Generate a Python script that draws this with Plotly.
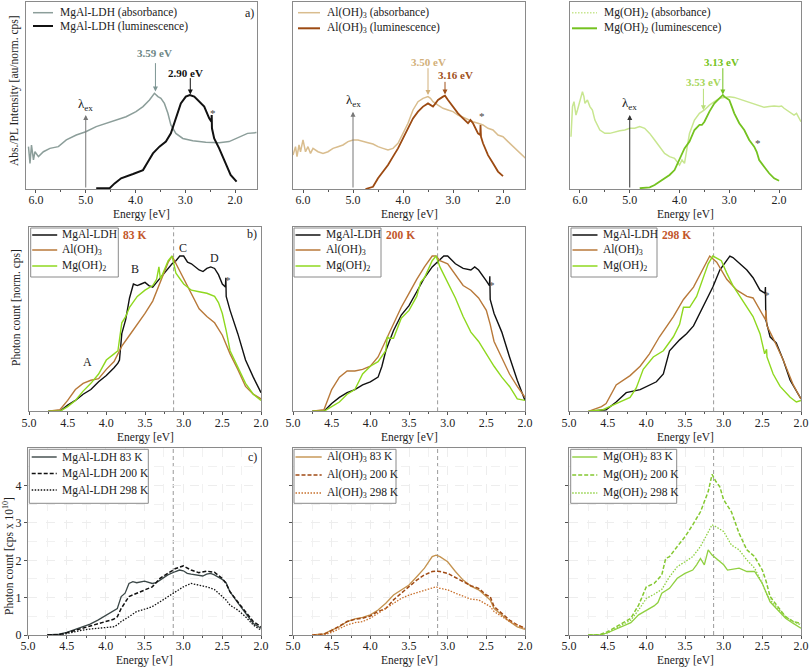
import plotly.graph_objects as go

W, H = 810, 669
FONT = "Liberation Serif, Times New Roman, serif"

# ================= DATA =================
# ---- Row a): absorbance / luminescence (normalised 0..1) ----
E_ldh_abs = [6.15, 6.12, 6.09, 6.05, 6.02, 5.95, 5.85, 5.72, 5.55, 5.39, 5.19, 5.0, 4.79, 4.59, 4.39, 4.19,
             3.99, 3.85, 3.72, 3.62, 3.55, 3.49, 3.42, 3.35, 3.29, 3.19, 3.05, 2.85, 2.59, 2.32, 2.12, 1.92, 1.75, 1.57]
I_ldh_abs = [0.226, 0.137, 0.235, 0.155, 0.199, 0.173, 0.199, 0.217, 0.226, 0.262, 0.288, 0.306, 0.333, 0.351,
             0.368, 0.386, 0.413, 0.440, 0.475, 0.511, 0.493, 0.484, 0.457, 0.404, 0.342, 0.297, 0.270, 0.258,
             0.249, 0.247, 0.253, 0.276, 0.297, 0.301]
E_ldh_lum = [4.79, 4.52, 4.42, 4.29, 4.05, 3.85, 3.75, 3.65, 3.52, 3.39, 3.29, 3.19, 3.09, 2.99, 2.91, 2.82,
             2.72, 2.62, 2.52, 2.475, 2.47, 2.465, 2.42, 2.32, 2.19, 2.09, 1.97]
I_ldh_lum = [0.004, 0.004, 0.030, 0.057, 0.080, 0.101, 0.146, 0.190, 0.226, 0.253, 0.297, 0.377, 0.457, 0.493,
             0.502, 0.493, 0.466, 0.440, 0.377, 0.359, 0.395, 0.324, 0.270, 0.217, 0.137, 0.075, 0.039]

E_al_abs = [6.2, 6.15, 6.12, 6.08, 6.05, 6.0, 5.95, 5.9, 5.85, 5.8, 5.7, 5.6, 5.5, 5.4, 5.3, 5.2, 5.1, 5.0, 4.9,
            4.8, 4.7, 4.6, 4.5, 4.4, 4.3, 4.2, 4.1, 4.0, 3.9, 3.8, 3.7, 3.6, 3.5, 3.45, 3.4, 3.3, 3.2, 3.1, 3.0,
            2.9, 2.8, 2.7, 2.6, 2.5, 2.4, 2.3, 2.2, 2.1, 2.0, 1.9, 1.8, 1.7, 1.55]
I_al_abs = [0.181, 0.226, 0.173, 0.235, 0.199, 0.262, 0.199, 0.226, 0.190, 0.217, 0.199, 0.190, 0.199, 0.217,
            0.226, 0.235, 0.253, 0.262, 0.262, 0.253, 0.247, 0.240, 0.226, 0.217, 0.208, 0.217, 0.244, 0.297,
            0.351, 0.422, 0.466, 0.484, 0.493, 0.484, 0.466, 0.448, 0.431, 0.422, 0.413, 0.395, 0.383, 0.368,
            0.359, 0.351, 0.342, 0.324, 0.315, 0.288, 0.279, 0.253, 0.226, 0.199, 0.164]
E_al_lum = [4.75, 4.6, 4.5, 4.4, 4.3, 4.2, 4.1, 4.0, 3.9, 3.8, 3.7, 3.6, 3.5, 3.4, 3.35, 3.3, 3.2, 3.16, 3.1,
            3.0, 2.9, 2.8, 2.7, 2.65, 2.6, 2.5, 2.455, 2.45, 2.44, 2.4, 2.3, 2.2, 2.1, 2.0]
I_al_lum = [0.0, 0.012, 0.057, 0.093, 0.128, 0.173, 0.217, 0.270, 0.324, 0.377, 0.413, 0.440, 0.457, 0.440,
            0.457, 0.475, 0.493, 0.498, 0.475, 0.440, 0.404, 0.377, 0.351, 0.368, 0.351, 0.297, 0.288, 0.342,
            0.279, 0.244, 0.181, 0.137, 0.093, 0.069]

E_mg_abs = [6.18, 6.15, 6.12, 6.1, 6.08, 6.05, 6.0, 5.95, 5.92, 5.9, 5.85, 5.8, 5.75, 5.7, 5.6, 5.5, 5.4, 5.3,
            5.2, 5.1, 5.0, 4.9, 4.8, 4.7, 4.6, 4.5, 4.4, 4.3, 4.2, 4.1, 4.0, 3.95, 3.9, 3.85, 3.8, 3.7, 3.6, 3.5,
            3.4, 3.3, 3.2, 3.1, 3.0, 2.9, 2.8, 2.7, 2.6, 2.5, 2.4, 2.3, 2.2, 2.1, 2.0, 1.95, 1.9, 1.8, 1.7, 1.65, 1.56]
I_mg_abs = [0.279, 0.440, 0.466, 0.422, 0.395, 0.422, 0.475, 0.520, 0.493, 0.457, 0.475, 0.440, 0.422, 0.368,
            0.315, 0.297, 0.297, 0.306, 0.311, 0.315, 0.324, 0.324, 0.333, 0.324, 0.297, 0.262, 0.226, 0.190,
            0.173, 0.164, 0.128, 0.155, 0.137, 0.208, 0.297, 0.368, 0.404, 0.422, 0.448, 0.466, 0.484, 0.489,
            0.493, 0.489, 0.480, 0.471, 0.463, 0.454, 0.443, 0.436, 0.440, 0.443, 0.440, 0.443, 0.431, 0.413,
            0.395, 0.404, 0.359]
E_mg_lum = [4.8, 4.6, 4.5, 4.4, 4.2, 4.1, 4.0, 3.9, 3.8, 3.7, 3.6, 3.55, 3.5, 3.4, 3.3, 3.2, 3.13, 3.1, 3.0,
            2.95, 2.9, 2.8, 2.7, 2.6, 2.5, 2.45, 2.4, 2.3, 2.2, 2.1, 2.0]
I_mg_lum = [0.004, 0.009, 0.021, 0.039, 0.075, 0.101, 0.164, 0.217, 0.253, 0.315, 0.342, 0.342, 0.359, 0.413,
            0.457, 0.484, 0.502, 0.493, 0.475, 0.440, 0.404, 0.351, 0.315, 0.262, 0.226, 0.199, 0.155, 0.119,
            0.084, 0.057, 0.044]

# ---- Row b): normalised PL at 83 K / 200 K / 298 K ----
E_b83_ldh = [4.75, 4.6, 4.5, 4.4, 4.3, 4.2, 4.1, 4.0, 3.9, 3.85, 3.83, 3.81, 3.8, 3.75, 3.7, 3.65, 3.6, 3.55,
             3.5, 3.45, 3.4, 3.35, 3.3, 3.2, 3.15, 3.1, 3.05, 3.0, 2.95, 2.9, 2.8, 2.75, 2.7, 2.65, 2.6, 2.55,
             2.5, 2.46, 2.455, 2.45, 2.4, 2.3, 2.2, 2.1, 2.0]
I_b83_ldh = [0.0, 0.0, 0.04, 0.07, 0.11, 0.14, 0.19, 0.23, 0.28, 0.31, 0.33, 0.45, 0.50, 0.59, 0.73, 0.82,
             0.81, 0.82, 0.83, 0.81, 0.80, 0.83, 0.86, 0.92, 0.95, 0.97, 1.00, 1.00, 0.96, 0.95, 0.91, 0.90,
             0.92, 0.93, 0.92, 0.88, 0.82, 0.80, 0.86, 0.74, 0.65, 0.50, 0.33, 0.22, 0.12]
E_b83_al = [4.75, 4.6, 4.5, 4.4, 4.3, 4.2, 4.1, 4.0, 3.9, 3.8, 3.7, 3.6, 3.5, 3.4, 3.3, 3.2, 3.15, 3.1, 3.0,
            2.9, 2.8, 2.7, 2.6, 2.5, 2.45, 2.4, 2.3, 2.2, 2.1, 2.0]
I_b83_al = [0.0, 0.01, 0.07, 0.14, 0.18, 0.20, 0.21, 0.27, 0.32, 0.42, 0.49, 0.56, 0.63, 0.71, 0.83, 0.96,
            1.00, 0.95, 0.86, 0.75, 0.66, 0.61, 0.57, 0.49, 0.43, 0.37, 0.27, 0.16, 0.11, 0.08]
E_b83_mg = [4.75, 4.6, 4.5, 4.4, 4.3, 4.2, 4.1, 4.0, 3.9, 3.85, 3.8, 3.75, 3.7, 3.6, 3.5, 3.4, 3.35, 3.32,
            3.3, 3.2, 3.15, 3.1, 3.0, 2.9, 2.8, 2.7, 2.6, 2.55, 2.5, 2.46, 2.45, 2.4, 2.3, 2.2, 2.1, 2.0]
I_b83_mg = [0.0, 0.0, 0.03, 0.07, 0.13, 0.18, 0.24, 0.33, 0.37, 0.39, 0.57, 0.61, 0.67, 0.74, 0.78, 0.81,
            0.85, 0.93, 0.85, 0.97, 1.00, 0.89, 0.82, 0.78, 0.77, 0.76, 0.74, 0.70, 0.63, 0.55, 0.52, 0.39,
            0.29, 0.18, 0.11, 0.07]

E_b200_ldh = [4.75, 4.6, 4.5, 4.4, 4.3, 4.2, 4.1, 4.0, 3.9, 3.85, 3.8, 3.7, 3.6, 3.5, 3.4, 3.3, 3.2, 3.1,
              3.05, 3.0, 2.9, 2.8, 2.7, 2.65, 2.6, 2.5, 2.46, 2.455, 2.45, 2.4, 2.3, 2.2, 2.1, 2.0]
I_b200_ldh = [0.0, 0.0, 0.05, 0.09, 0.12, 0.14, 0.17, 0.19, 0.22, 0.29, 0.39, 0.52, 0.62, 0.68, 0.77, 0.86,
              0.93, 0.98, 1.00, 1.00, 0.95, 0.92, 0.91, 0.93, 0.91, 0.84, 0.81, 0.87, 0.72, 0.63, 0.51, 0.35,
              0.20, 0.07]
E_b200_al = [4.75, 4.6, 4.5, 4.4, 4.3, 4.2, 4.1, 4.0, 3.9, 3.8, 3.7, 3.6, 3.5, 3.4, 3.3, 3.2, 3.15, 3.1, 3.0,
             2.9, 2.8, 2.7, 2.6, 2.5, 2.45, 2.4, 2.3, 2.2, 2.1, 2.0]
I_b200_al = [0.0, 0.01, 0.14, 0.22, 0.26, 0.26, 0.27, 0.29, 0.35, 0.46, 0.57, 0.67, 0.76, 0.85, 0.93, 1.00,
             1.00, 0.97, 0.95, 0.88, 0.81, 0.78, 0.73, 0.65, 0.56, 0.45, 0.35, 0.24, 0.16, 0.09]
E_b200_mg = [4.75, 4.6, 4.5, 4.4, 4.3, 4.2, 4.1, 4.0, 3.9, 3.8, 3.78, 3.76, 3.7, 3.6, 3.5, 3.4, 3.35, 3.3,
             3.2, 3.15, 3.1, 3.0, 2.9, 2.8, 2.7, 2.6, 2.5, 2.4, 2.3, 2.2, 2.1, 2.0]
I_b200_mg = [0.0, 0.0, 0.03, 0.06, 0.11, 0.14, 0.24, 0.29, 0.32, 0.39, 0.48, 0.47, 0.47, 0.60, 0.65, 0.74,
             0.83, 0.86, 0.97, 1.00, 0.93, 0.83, 0.73, 0.61, 0.51, 0.45, 0.37, 0.29, 0.22, 0.16, 0.08, 0.07]

E_b298_ldh = [4.73, 4.52, 4.39, 4.26, 4.08, 3.96, 3.87, 3.78, 3.70, 3.57, 3.48, 3.39, 3.31, 3.22, 3.14, 3.05,
              2.98, 2.92, 2.88, 2.79, 2.70, 2.62, 2.53, 2.465, 2.46, 2.455, 2.40, 2.32, 2.23, 2.14, 2.06, 2.0]
I_b298_ldh = [0.0, 0.01, 0.06, 0.12, 0.14, 0.17, 0.19, 0.24, 0.39, 0.46, 0.50, 0.55, 0.63, 0.73, 0.80, 0.91,
              0.96, 1.00, 0.99, 0.95, 0.91, 0.86, 0.78, 0.76, 0.80, 0.59, 0.48, 0.44, 0.33, 0.20, 0.13, 0.08]
E_b298_al = [4.75, 4.58, 4.52, 4.39, 4.21, 4.08, 3.96, 3.83, 3.65, 3.52, 3.39, 3.31, 3.22, 3.18, 3.09, 2.96,
             2.83, 2.70, 2.62, 2.53, 2.46, 2.455, 2.44, 2.36, 2.23, 2.10, 2.0]
I_b298_al = [0.0, 0.03, 0.05, 0.17, 0.23, 0.29, 0.37, 0.48, 0.61, 0.72, 0.80, 0.88, 0.97, 1.00, 0.96, 0.85,
             0.78, 0.74, 0.73, 0.65, 0.59, 0.65, 0.55, 0.47, 0.33, 0.17, 0.08]
E_b298_mg = [4.75, 4.56, 4.39, 4.21, 4.13, 4.04, 3.91, 3.78, 3.65, 3.57, 3.52, 3.44, 3.35, 3.26, 3.20, 3.14,
             3.03, 2.96, 2.88, 2.79, 2.70, 2.62, 2.53, 2.47, 2.445, 2.44, 2.36, 2.27, 2.14, 2.06, 2.0]
I_b298_mg = [0.0, 0.01, 0.05, 0.09, 0.15, 0.27, 0.35, 0.39, 0.48, 0.56, 0.67, 0.67, 0.74, 0.87, 0.95, 1.00,
             0.97, 0.89, 0.81, 0.74, 0.67, 0.61, 0.50, 0.37, 0.40, 0.35, 0.24, 0.16, 0.09, 0.06, 0.07]

# ---- Row c): absolute photon count [cps x 10^10] ----
E_c_ldh = [4.75, 4.6, 4.5, 4.4, 4.3, 4.2, 4.1, 4.0, 3.9, 3.85, 3.8, 3.75, 3.7, 3.65, 3.6, 3.5, 3.4, 3.35, 3.3,
           3.2, 3.1, 3.05, 3.0, 2.95, 2.9, 2.8, 2.75, 2.7, 2.65, 2.6, 2.5, 2.45, 2.4, 2.3, 2.2, 2.1, 2.0]
C_ldh_83 = [0.0, 0.02, 0.07, 0.15, 0.22, 0.29, 0.40, 0.52, 0.63, 0.71, 1.03, 1.12, 1.38, 1.43, 1.40, 1.44,
            1.38, 1.40, 1.47, 1.61, 1.70, 1.74, 1.72, 1.65, 1.63, 1.61, 1.58, 1.63, 1.65, 1.61, 1.49, 1.40,
            1.16, 0.87, 0.58, 0.31, 0.18]
E_c = [4.75, 4.6, 4.5, 4.4, 4.3, 4.2, 4.1, 4.0, 3.9, 3.85, 3.8, 3.7, 3.6, 3.5, 3.4, 3.3, 3.2, 3.1, 3.0, 2.9,
       2.8, 2.7, 2.6, 2.5, 2.45, 2.4, 2.3, 2.2, 2.1, 2.0]
C_ldh_200 = [0.0, 0.01, 0.06, 0.12, 0.18, 0.22, 0.29, 0.36, 0.42, 0.49, 0.71, 1.03, 1.12, 1.21, 1.29, 1.52,
             1.65, 1.78, 1.85, 1.74, 1.67, 1.71, 1.68, 1.52, 1.38, 1.16, 0.89, 0.63, 0.36, 0.22]
C_ldh_298 = [0.0, 0.0, 0.04, 0.09, 0.13, 0.16, 0.18, 0.20, 0.22, 0.27, 0.36, 0.49, 0.63, 0.69, 0.76, 0.89,
             1.03, 1.16, 1.29, 1.38, 1.34, 1.29, 1.22, 1.03, 0.94, 0.80, 0.67, 0.49, 0.27, 0.13]

E_c_al = [4.75, 4.6, 4.5, 4.4, 4.3, 4.2, 4.1, 4.0, 3.9, 3.8, 3.7, 3.6, 3.5, 3.4, 3.3, 3.2, 3.15, 3.1, 3.0, 2.9,
          2.8, 2.7, 2.6, 2.5, 2.45, 2.4, 2.3, 2.2, 2.1, 2.0]
C_al_83 = [0.0, 0.03, 0.13, 0.22, 0.36, 0.43, 0.47, 0.54, 0.67, 0.85, 1.07, 1.21, 1.34, 1.56, 1.79, 2.10, 2.14,
           2.10, 1.96, 1.70, 1.47, 1.31, 1.21, 1.03, 0.94, 0.71, 0.54, 0.36, 0.22, 0.15]
C_al_200 = [0.0, 0.02, 0.12, 0.25, 0.36, 0.42, 0.45, 0.51, 0.63, 0.71, 0.94, 1.12, 1.29, 1.47, 1.61, 1.70,
            1.71, 1.70, 1.65, 1.54, 1.43, 1.32, 1.25, 1.07, 1.03, 0.76, 0.58, 0.40, 0.27, 0.18]
C_al_298 = [0.0, 0.0, 0.07, 0.18, 0.27, 0.33, 0.36, 0.45, 0.58, 0.71, 0.85, 0.98, 1.07, 1.13, 1.21, 1.25, 1.29,
            1.25, 1.21, 1.12, 1.03, 0.96, 0.94, 0.83, 0.76, 0.63, 0.49, 0.36, 0.27, 0.18]

E_c_mg83 = [4.75, 4.6, 4.5, 4.4, 4.3, 4.2, 4.1, 4.0, 3.9, 3.85, 3.8, 3.7, 3.6, 3.5, 3.4, 3.35, 3.3, 3.25, 3.2,
            3.15, 3.1, 3.0, 2.95, 2.9, 2.8, 2.7, 2.6, 2.5, 2.45, 2.4, 2.3, 2.2, 2.1, 2.0]
C_mg_83 = [0.0, 0.0, 0.06, 0.15, 0.24, 0.33, 0.54, 0.67, 0.78, 0.87, 1.12, 1.25, 1.52, 1.65, 1.74, 1.88, 2.05,
           1.88, 2.28, 2.14, 2.05, 1.88, 1.74, 1.76, 1.79, 1.70, 1.70, 1.38, 1.12, 0.89, 0.67, 0.45, 0.31, 0.18]
E_c_mg200 = [4.75, 4.6, 4.5, 4.4, 4.3, 4.2, 4.1, 4.0, 3.9, 3.8, 3.75, 3.7, 3.6, 3.5, 3.4, 3.3, 3.2, 3.15, 3.1,
             3.05, 3.0, 2.9, 2.8, 2.7, 2.6, 2.5, 2.45, 2.4, 2.3, 2.2, 2.1, 2.0]
C_mg_200 = [0.0, 0.01, 0.09, 0.21, 0.33, 0.45, 0.80, 1.29, 1.38, 1.61, 2.05, 2.10, 2.37, 2.63, 2.95, 3.30, 3.84,
            4.30, 4.11, 3.97, 3.62, 3.30, 2.72, 2.28, 2.10, 1.74, 1.43, 1.03, 0.76, 0.49, 0.36, 0.31]
E_c_mg298 = [4.75, 4.6, 4.5, 4.4, 4.3, 4.2, 4.1, 4.0, 3.9, 3.8, 3.7, 3.6, 3.5, 3.4, 3.3, 3.2, 3.15, 3.1, 3.0,
             2.9, 2.8, 2.7, 2.6, 2.5, 2.45, 2.4, 2.3, 2.2, 2.1, 2.0]
C_mg_298 = [0.0, 0.0, 0.06, 0.17, 0.29, 0.40, 0.67, 0.98, 1.09, 1.22, 1.56, 1.83, 1.96, 2.10, 2.37, 2.77, 2.95,
            2.90, 2.77, 2.41, 2.28, 2.01, 1.79, 1.38, 1.12, 0.94, 0.71, 0.49, 0.36, 0.27]

x_ticks_a = [6, 5, 4, 3, 2]
x_ticks_bc = [5.0, 4.5, 4.0, 3.5, 3.0, 2.5, 2.0]
y_ticks_c = [0, 1, 2, 3, 4]
E_ref = 3.13
E_ex = 5.0

# ================= STYLE =================
C_LDH_ABS = "#8c9e9a"
C_AL_ABS = "#d9bd8e"
C_AL_LUM = "#9c4a12"
C_MG_ABS = "#c8e690"
C_MG_LUM = "#74c220"
C_B_AL = "#b8793a"
C_B_MG = "#8fd81f"
C_TEMP = "#c2562a"
DASH = "4px,2px"
DOT = "1.5px,1.5px"
FS = 11.5


def px(x):
    return x / W


def py(y):
    return 1 - y / H


ydom = {0: (1.7, 189), 1: (227.3, 411.3), 2: (448.3, 635)}
xdom = {(0, 0): (26, 257), (0, 1): (293, 525), (0, 2): (570, 801),
        (1, 0): (29, 261), (1, 1): (293, 525), (1, 2): (569, 801),
        (2, 0): (28, 261), (2, 1): (293, 525), (2, 2): (569, 801)}

fig = go.Figure()
layout = dict(width=W, height=H, margin=dict(l=0, r=0, t=0, b=0, pad=0, autoexpand=False),
              plot_bgcolor="white", paper_bgcolor="white", showlegend=False,
              font=dict(family=FONT, size=12, color="#222"))

for r in range(3):
    for c in range(3):
        k = r * 3 + c + 1
        x0, x1 = xdom[(r, c)]
        y0, y1 = ydom[r]
        xa = dict(domain=[px(x0), px(x1)], anchor="y%d" % k, showline=True, mirror=True, automargin=False,
                  linecolor="#8a8a8a", linewidth=1, ticks="outside", ticklen=3, tickcolor="#555",
                  ticklabelstandoff=-3,
                  tickfont=dict(family=FONT, size=12, color="#222"), zeroline=False, showgrid=False)
        ya = dict(domain=[py(y1), py(y0)], anchor="x%d" % k, showline=True, mirror=True, automargin=False,
                  linecolor="#8a8a8a", linewidth=1, zeroline=False, showgrid=False)
        if r == 0:
            xa.update(range=[6.2, 1.56], tickvals=x_ticks_a, ticktext=["%.1f" % v for v in x_ticks_a],
                      minor=dict(dtick=0.5, tick0=0, ticks="outside", ticklen=2, tickcolor="#555"))
            ya.update(range=[0, 1.0], showticklabels=False, ticks="")
        else:
            xa.update(range=[5.0, 2.0], tickvals=x_ticks_bc, ticktext=["%.1f" % v for v in x_ticks_bc],
                      minor=dict(dtick=0.25, tick0=0, ticks="outside", ticklen=2, tickcolor="#555"))
            if r == 1:
                ya.update(range=[0, 1.185], showticklabels=False, ticks="")
            else:
                xa.update(showgrid=True, gridcolor="#ededed", griddash="dash", gridwidth=1)
                xa["minor"].update(showgrid=True, gridcolor="#f1f1f1", griddash="dash")
                ya.update(range=[0, 5.0], tickvals=y_ticks_c, ticks="outside", ticklen=3, tickcolor="#555",
                          showticklabels=(c == 0), tickfont=dict(family=FONT, size=12, color="#222"),
                          showgrid=True, gridcolor="#ededed", griddash="dash",
                          minor=dict(dtick=0.5, showgrid=True, gridcolor="#f1f1f1", griddash="dash"))
        layout["xaxis%d" % k] = xa
        layout["yaxis%d" % k] = ya


def line(k, x, y, color, width=1.4, dash="solid"):
    fig.add_trace(go.Scatter(x=x, y=y, mode="lines", xaxis="x%d" % k, yaxis="y%d" % k,
                             line=dict(color=color, width=width, dash=dash), hoverinfo="skip"))


# Row a
line(1, E_ldh_abs, I_ldh_abs, C_LDH_ABS, 1.5)
line(1, E_ldh_lum, I_ldh_lum, "#111111", 2.0)
line(2, E_al_abs, I_al_abs, C_AL_ABS, 1.5)
line(2, E_al_lum, I_al_lum, C_AL_LUM, 1.8)
line(3, E_mg_abs, I_mg_abs, C_MG_ABS, 1.5)
line(3, E_mg_lum, I_mg_lum, C_MG_LUM, 1.8)
# Row b
line(4, E_b83_ldh, I_b83_ldh, "#111111")
line(4, E_b83_al, I_b83_al, C_B_AL)
line(4, E_b83_mg, I_b83_mg, C_B_MG)
line(5, E_b200_ldh, I_b200_ldh, "#111111")
line(5, E_b200_al, I_b200_al, C_B_AL)
line(5, E_b200_mg, I_b200_mg, C_B_MG)
line(6, E_b298_ldh, I_b298_ldh, "#111111")
line(6, E_b298_al, I_b298_al, C_B_AL)
line(6, E_b298_mg, I_b298_mg, C_B_MG)
# Row c
line(7, E_c_ldh, C_ldh_83, "#3b4747", 1.3)
line(7, E_c, C_ldh_200, "#111111", 1.5, DASH)
line(7, E_c, C_ldh_298, "#111111", 1.3, DOT)
line(8, E_c_al, C_al_83, "#c4924e", 1.3)
line(8, E_c_al, C_al_200, "#a04a14", 1.5, DASH)
line(8, E_c_al, C_al_298, "#c8702c", 1.3, DOT)
line(9, E_c_mg83, C_mg_83, "#90d040", 1.3)
line(9, E_c_mg200, C_mg_200, "#84c830", 1.5, DASH)
line(9, E_c_mg298, C_mg_298, "#8ed040", 1.3, DOT)

shapes = []
ann = []

# dashed reference lines in rows b and c
for k in range(4, 10):
    shapes.append(dict(type="line", xref="x%d" % k, yref="y%d domain" % k, x0=E_ref, x1=E_ref, y0=0, y1=1,
                       line=dict(color="#9a9a9a", width=1, dash="4px,3px"), layer="below"))


def text(x, y, s, size=12, color="#222", xanchor="center", bold=False, angle=0, xref="paper", yref="paper"):
    if bold:
        s = "<b>%s</b>" % s
    ann.append(dict(x=x, y=y, xref=xref, yref=yref, text=s, showarrow=False, xanchor=xanchor,
                    yanchor="middle", textangle=angle, font=dict(family=FONT, size=size, color=color)))


def arrow(k, x, y_tail, y_head, color, width=1):
    ann.append(dict(x=x, y=y_head, ax=x, ay=y_tail, xref="x%d" % k, yref="y%d" % k, axref="x%d" % k,
                    ayref="y%d" % k, text="", showarrow=True, arrowhead=2, arrowsize=1, arrowwidth=width,
                    arrowcolor=color, standoff=0, startstandoff=0))


# --- row a annotations ---
for k, top, ty, col in [(1, 0.395, 0.45, "#777777"), (2, 0.413, 0.475, "#777777"), (3, 0.395, 0.457, "#333333")]:
    arrow(k, E_ex, 0.0, top, col)
    text(E_ex, ty, "λ<sub>ex</sub>", 13, "#222", xref="x%d" % k, yref="y%d" % k)

text(3.62, 0.724, "3.59 eV", 11, "#6d8785", bold=True, xref="x1", yref="y1")
arrow(1, 3.60, 0.68, 0.52, "#7d9593")
text(2.99, 0.621, "2.90 eV", 11, "#111", bold=True, xref="x1", yref="y1")
arrow(1, 2.90, 0.60, 0.505, "#111111")
text(2.45, 0.404, "*", 11, "#444", xref="x1", yref="y1")

text(3.50, 0.68, "3.50 eV", 11, "#d2b07a", bold=True, xref="x2", yref="y2")
arrow(2, 3.50, 0.653, 0.502, "#d2b07a")
text(2.95, 0.609, "3.16 eV", 11, "#a0501a", bold=True, xref="x2", yref="y2")
arrow(2, 3.16, 0.58, 0.505, "#a0501a")
text(2.43, 0.39, "*", 11, "#444", xref="x2", yref="y2")

text(3.51, 0.573, "3.53 eV", 11, "#a6d65a", bold=True, xref="x3", yref="y3")
arrow(3, 3.52, 0.543, 0.42, "#b8de78")
text(3.15, 0.68, "3.13 eV", 11, "#74c220", bold=True, xref="x3", yref="y3")
arrow(3, 3.13, 0.653, 0.505, "#74c220")
text(2.43, 0.247, "*", 11, "#444", xref="x3", yref="y3")

text(px(256), py(13), "a)", 12, "#222", xanchor="right")
text(px(259), py(234), "b)", 12, "#222", xanchor="right")
text(px(259), py(457), "c)", 12, "#222", xanchor="right")

# --- row b letters / asterisks ---
text(4.24, 0.32, "A", 12, "#222", xref="x4", yref="y4")
text(3.63, 0.914, "B", 12, "#222", xref="x4", yref="y4")
text(3.01, 1.049, "C", 12, "#222", xref="x4", yref="y4")
text(2.60, 0.985, "D", 12, "#222", xref="x4", yref="y4")
text(2.43, 0.845, "*", 11, "#444", xref="x4", yref="y4")
text(2.43, 0.813, "*", 11, "#444", xref="x5", yref="y5")
text(2.44, 0.75, "*", 11, "#444", xref="x6", yref="y6")


# --- legends (drawn manually) ---
def leg_line(x0, x1, y, color, width=1.5, dash="solid"):
    shapes.append(dict(type="line", xref="paper", yref="paper", x0=px(x0), x1=px(x1), y0=py(y), y1=py(y),
                       line=dict(color=color, width=width, dash=dash)))


def leg_box(x0, x1, y0, y1):
    shapes.append(dict(type="rect", xref="paper", yref="paper", x0=px(x0), x1=px(x1), y0=py(y1), y1=py(y0),
                       line=dict(color="#8a8a8a", width=1), fillcolor="white", layer="above"))


# row a legends
leg_line(33, 53, 12.7, C_LDH_ABS, 1.5)
leg_line(33, 53, 26, "#111111", 2)
text(px(58), py(12.7), "MgAl-LDH (absorbance)", FS, xanchor="left")
text(px(58), py(26), "MgAl-LDH (luminescence)", FS, xanchor="left")
leg_line(298, 320, 12.7, C_AL_ABS, 1.5)
leg_line(298, 320, 28.3, C_AL_LUM, 2)
text(px(325), py(12.7), "Al(OH)<sub>3</sub> (absorbance)", FS, xanchor="left")
text(px(325), py(28.3), "Al(OH)<sub>3</sub> (luminescence)", FS, xanchor="left")
leg_line(572, 597, 12.7, C_MG_ABS, 1.5, DOT)
leg_line(572, 597, 28.3, C_MG_LUM, 2)
text(px(602), py(12.7), "Mg(OH)<sub>2</sub> (absorbance)", FS, xanchor="left")
text(px(602), py(28.3), "Mg(OH)<sub>2</sub> (luminescence)", FS, xanchor="left")

# row b legends
for (bx0, bx1, tx, temp) in [(30.7, 118.3, 121, "83 K"), (294, 381, 384, "200 K"), (571, 657, 660, "298 K")]:
    leg_box(bx0, bx1, 228, 277)
    ls, le, tt = bx0 + 1.5, bx0 + 26.5, bx0 + 29.5
    leg_line(ls, le, 235, "#111111", 1.5)
    leg_line(ls, le, 250, C_B_AL, 1.5)
    leg_line(ls, le, 266, C_B_MG, 1.5)
    text(px(tt), py(235), "MgAl-LDH", FS, xanchor="left")
    text(px(tt), py(250), "Al(OH)<sub>3</sub>", FS, xanchor="left")
    text(px(tt), py(266), "Mg(OH)<sub>2</sub>", FS, xanchor="left")
    text(px(tx), py(235), temp, FS, C_TEMP, xanchor="left", bold=True)

# row c legends
leg_box(29.3, 148.3, 449.3, 503.3)
for yy, lab, dash in [(457, "83 K", "solid"), (473.5, "200 K", DASH), (490, "298 K", DOT)]:
    leg_line(31.7, 56.7, yy, "#3b4747" if dash == "solid" else "#111111", 1.4, dash)
    text(px(60), py(yy), "MgAl-LDH " + lab, FS, xanchor="left")
leg_box(294, 396, 449.3, 503.3)
for yy, lab, dash, colr in [(457, "83 K", "solid", "#c4924e"), (475, "200 K", DASH, "#a04a14"),
                            (493, "298 K", DOT, "#c8702c")]:
    leg_line(295.5, 321.7, yy, colr, 1.4, dash)
    text(px(325), py(yy), "Al(OH)<sub>3</sub> " + lab, FS, xanchor="left")
leg_box(570.7, 676.7, 449.3, 503.3)
for yy, lab, dash, colr in [(457, "83 K", "solid", "#90d040"), (475, "200 K", DASH, "#84c830"),
                            (493, "298 K", DOT, "#8ed040")]:
    leg_line(572.2, 597.3, yy, colr, 1.4, dash)
    text(px(601), py(yy), "Mg(OH)<sub>2</sub> " + lab, FS, xanchor="left")

# axis titles
for r, ty in [(0, 215), (1, 437), (2, 660)]:
    for c in range(3):
        x0, x1 = xdom[(r, c)]
        text(px((x0 + x1) / 2), py(ty), "Energy [eV]", FS)
text(px(14), py(91), "Abs./PL Intensity [au/norm. cps]", 11.5, angle=-90)
text(px(17), py(308), "Photon count [norm. cps]", 11.5, angle=-90)
text(px(8), py(556), "Photon count [cps x 10<sup>10</sup>]", 11.5, angle=-90)

layout["shapes"] = shapes
layout["annotations"] = ann
fig.update_layout(**layout)
fig.write_html("out.html", config={"displayModeBar": False, "staticPlot": True},
               post_script="document.body.style.margin='0px';document.body.style.overflow='hidden';")
